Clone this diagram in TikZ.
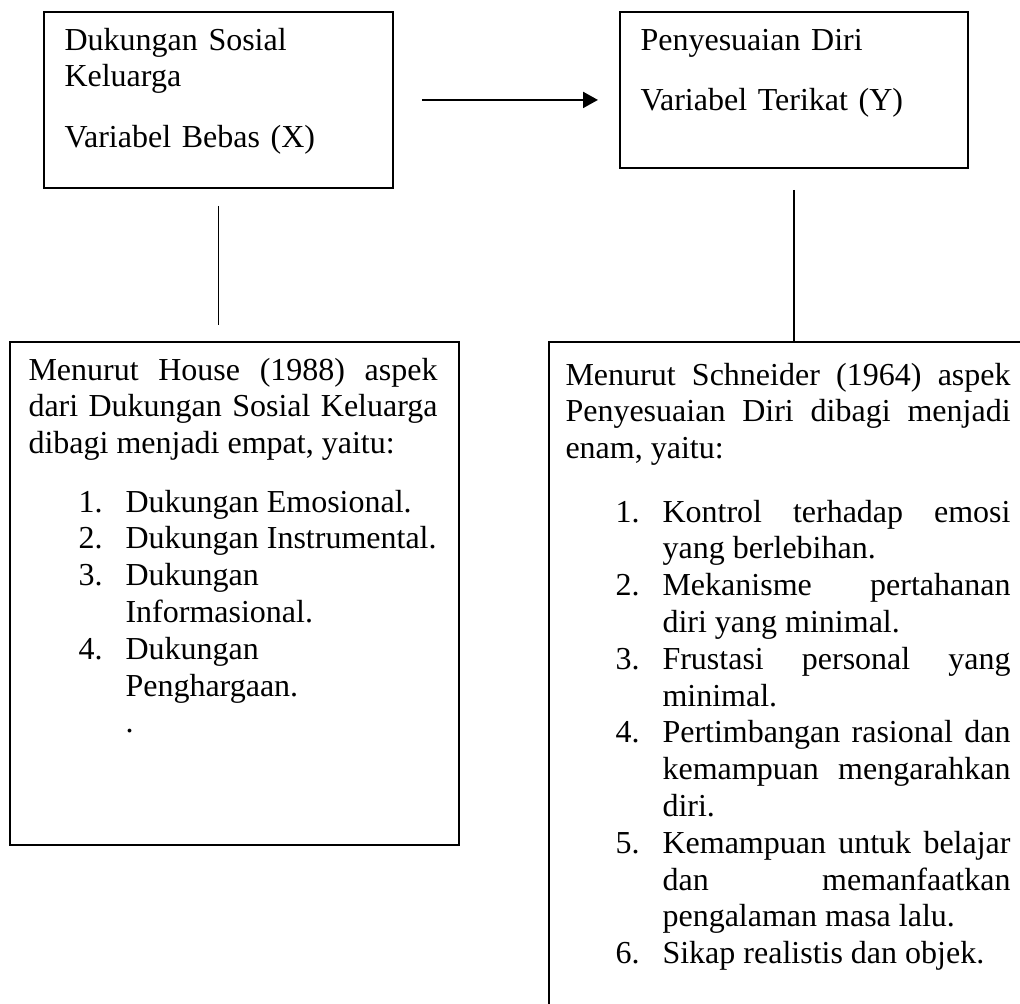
\documentclass[tikz,border=0pt]{standalone}
\usepackage{fontspec}
\setmainfont{Liberation Serif}
\usetikzlibrary{arrows.meta}
\tolerance=10000
\hbadness=10000
\hyphenpenalty=10000

\begin{document}
\begin{tikzpicture}
    [
        x=0.375pt, y=-0.375pt,
        box_style/.style={rectangle, draw=black, line width=0.7pt, inner sep=0pt, anchor=north west},
        text_style/.style={anchor=base west, inner sep=0pt, font=\fontsize{12pt}{13.8pt}\selectfont},
        para_style/.style={text_style, align=justify},
        link_style/.style={draw=black, line width=0.5pt},
        arrow_style/.style={draw=black, line width=0.8pt, -{Triangle[length=5.6pt, width=6pt]}}
    ]
        \useasboundingbox (0,0) rectangle (1020,1003);
        \clip (0,0) rectangle (1020,1003);

        \node[box_style, minimum width=130.9pt, minimum height=66pt] (bx) at (43,11) {};
        \node[box_style, minimum width=130.5pt, minimum height=58.5pt] (by) at (619,11) {};
        \node[text_style, text width=115pt, align=left] (tx) at (64,50) {Dukungan Sosial\\Keluarga\\[9pt]Variabel Bebas (X)};
        \node[text_style, text width=115pt, align=left] (ty) at (640,50) {Penyesuaian Diri\\[9pt]Variabel Terikat (Y)};
        \draw[arrow_style, shorten <=10.5pt, shorten >=7.9pt] (bx.east) -- (bx.east -| by.west);

        \node[box_style, minimum width=168.4pt, minimum height=188.6pt] (ax) at (9,341) {};
        \node[para_style, text width=153.4pt] (tax) at (28,380) {Menurut House (1988) aspek\linebreak dari Dukungan Sosial Keluarga\linebreak dibagi menjadi empat, yaitu:};
        \node[text_style] (ax1n) at (78,512) {1.};
        \node[para_style, text width=119pt] (ax1) at (125,512) {Dukungan Emosional.};
        \node[text_style] (ax2n) at (78,548.8) {2.};
        \node[para_style, text width=119pt] (ax2) at (125,548.8) {Dukungan Instrumental.};
        \node[text_style] (ax3n) at (78,585.6) {3.};
        \node[para_style, text width=119pt] (ax3) at (125,585.6) {Dukungan\linebreak Informasional.};
        \node[text_style] (ax4n) at (78,659.2) {4.};
        \node[para_style, text width=119pt] (ax4) at (125,659.2) {Dukungan\linebreak Penghargaan.};
        \node[text_style] (ax5) at (125,732.8) {.};
        \draw[link_style, shorten <=6.4pt, shorten >=6pt] (bx.south) -- (bx.south |- ax.north);

        \node[box_style, minimum width=180.8pt, minimum height=254.6pt] (ay) at (548,341) {};
        \node[para_style, text width=166.9pt] (tay) at (565,385) {Menurut Schneider (1964) aspek\linebreak Penyesuaian Diri dibagi menjadi\linebreak enam, yaitu:};
        \node[text_style] (ay1n) at (615,522) {1.};
        \node[para_style, text width=130.5pt] (ay1) at (662,522) {Kontrol terhadap emosi\linebreak yang berlebihan.};
        \node[text_style] (ay2n) at (615,595.6) {2.};
        \node[para_style, text width=130.5pt] (ay2) at (662,595.6) {Mekanisme pertahanan\linebreak diri yang minimal.};
        \node[text_style] (ay3n) at (615,669.2) {3.};
        \node[para_style, text width=130.5pt] (ay3) at (662,669.2) {Frustasi personal yang\linebreak minimal.};
        \node[text_style] (ay4n) at (615,742.8) {4.};
        \node[para_style, text width=130.5pt] (ay4) at (662,742.8) {Pertimbangan rasional dan\linebreak kemampuan mengarahkan\linebreak diri.};
        \node[text_style] (ay5n) at (615,853.2) {5.};
        \node[para_style, text width=130.5pt] (ay5) at (662,853.2) {Kemampuan untuk belajar\linebreak dan memanfaatkan\linebreak pengalaman masa lalu.};
        \node[text_style] (ay6n) at (615,963.6) {6.};
        \node[para_style, text width=130.5pt] (ay6) at (662,963.6) {Sikap realistis dan objek.};
        \draw[link_style, shorten <=7.9pt] (by.south) -- (by.south |- ay.north);
    \end{tikzpicture}
\end{document}
